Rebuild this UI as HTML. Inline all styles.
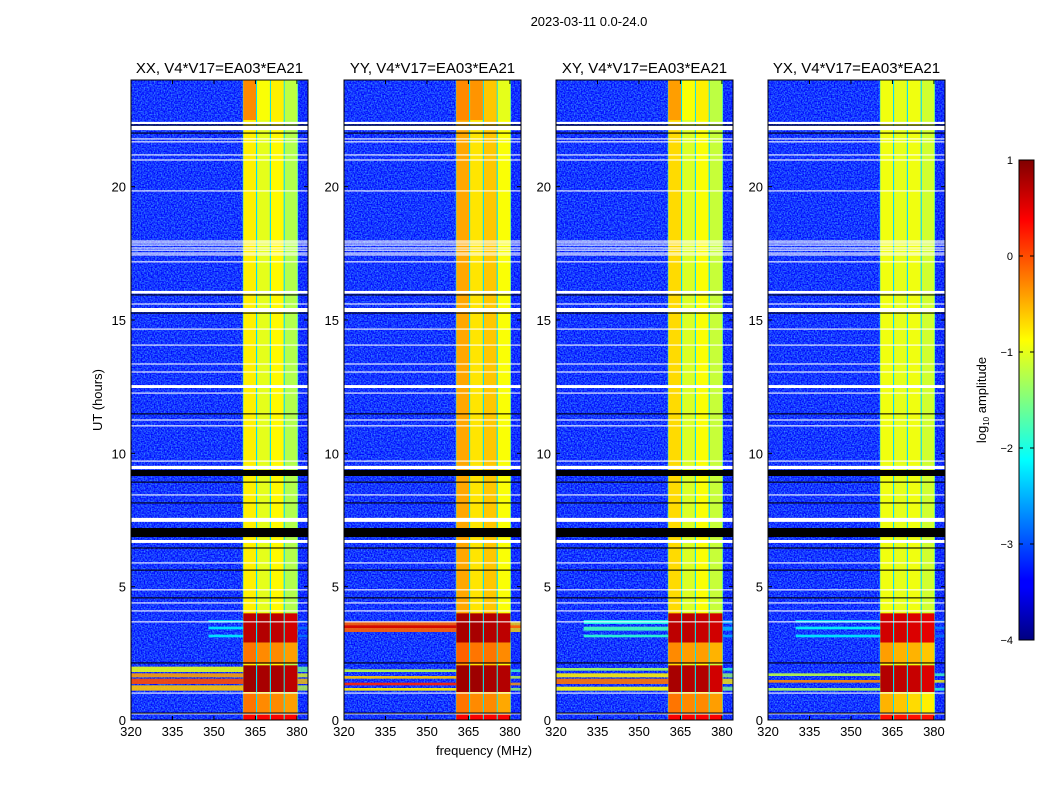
<!DOCTYPE html>
<html><head><meta charset="utf-8"><style>
body{margin:0;background:#fff;width:1050px;height:800px;overflow:hidden;font-family:"Liberation Sans",sans-serif}
svg text{font-family:"Liberation Sans",sans-serif;fill:#000}
</style></head><body>
<svg id="chart" width="1050" height="800" viewBox="0 0 1050 800" xmlns="http://www.w3.org/2000/svg">
<defs>
<filter id="noise" x="0" y="0" width="100%" height="100%">
<feTurbulence type="fractalNoise" baseFrequency="0.7" numOctaves="1" seed="3"/>
<feColorMatrix type="matrix" values="0 0 0 0 0.1  0 0 0 0 0.7  0 0 0 0 1  0 0 0 -2.2 1.5"/>
</filter>
<linearGradient id="cbgrad" x1="0" y1="1" x2="0" y2="0">
<stop offset="0" stop-color="#000080"/><stop offset="0.11" stop-color="#0000ff"/>
<stop offset="0.125" stop-color="#0000ff"/><stop offset="0.375" stop-color="#00ffff"/>
<stop offset="0.5" stop-color="#80ff80"/><stop offset="0.625" stop-color="#ffff00"/>
<stop offset="0.875" stop-color="#ff0000"/><stop offset="1" stop-color="#800000"/>
</linearGradient>
</defs>
<text x="589" y="26" font-size="13" text-anchor="middle">2023-03-11 0.0-24.0</text>
<text x="484" y="755" font-size="13" text-anchor="middle">frequency (MHz)</text>
<text x="102" y="400" font-size="13" text-anchor="middle" transform="rotate(-90 102 400)">UT (hours)</text>
<g id="panels"></g>
<g>
<rect x="1019" y="160" width="15" height="480" fill="url(#cbgrad)" stroke="#000" stroke-width="1"/>
</g>
<text x="986" y="400" font-size="13" text-anchor="middle" transform="rotate(-90 986 400)">log<tspan font-size="8" dy="3">10</tspan><tspan dy="-3"> amplitude</tspan></text>
<g id="cbticks"></g>
</svg>
<script>
const titles=["XX, V4*V17=EA03*EA21","YY, V4*V17=EA03*EA21","XY, V4*V17=EA03*EA21","YX, V4*V17=EA03*EA21"];
const xTicks=[320,335,350,365,380];
const yTicks=[0,5,10,15,20];
const cbTicks=[1,0,-1,-2,-3,-4];
const bandStarts=[360.6,365.6,370.6,375.6];
const bandWidth=4.6;
// default band levels (log10 amplitude) per panel
const bandLevels=[[-0.8,-1.0,-0.85,-1.25],[-0.45,-0.75,-0.6,-0.9],[-0.7,-1.05,-0.9,-1.15],[-0.95,-1.0,-0.95,-1.1]];
// time segments [start,end, b1,b2,b3,b4] per panel
const segXX=[[22.5,24,-0.3,-0.9,-0.8,-1.2],[2.9,4.0,0.7,0.75,0.7,0.6],[2.1,2.9,-0.2,-0.3,-0.3,-0.4],[1.05,2.05,0.85,0.8,0.8,0.7],[0.2,1.0,-0.2,-0.3,-0.3,-0.4],[0,0.2,0.4,0.4,0.4,0.4]];
const segYY=[[22.5,24,-0.3,-0.35,-0.6,-1.0],[2.9,4.0,0.8,0.8,0.75,0.7],[2.1,2.9,-0.1,-0.2,-0.2,-0.3],[1.05,2.05,0.85,0.85,0.8,0.75],[0.2,1.0,-0.2,-0.3,-0.3,-0.45],[0,0.2,0.4,0.4,0.4,0.4]];
const segXY=[[22.5,24,-0.4,-0.9,-0.8,-1.2],[2.9,4.0,0.7,0.7,0.65,0.6],[2.1,2.9,-0.3,-0.4,-0.4,-0.5],[1.05,2.05,0.8,0.75,0.75,0.6],[0.2,1.0,-0.2,-0.3,-0.3,-0.4],[0,0.2,0.4,0.4,0.4,0.4]];
const segYX=[[2.9,4.0,0.6,0.6,0.55,0.5],[2.1,2.9,-0.4,-0.5,-0.5,-0.6],[1.05,2.05,0.75,0.7,0.65,0.55],[0.2,1.0,-0.5,-0.6,-0.7,-0.8],[0,0.2,0.3,0.3,0.3,0.3]];
const segments=[segXX,segYY,segXY,segYX];
// low-frequency RFI rows [start,end,value,fromFreq]
const rfiXX=[[1.1,1.3,-0.6,320],[1.35,1.55,0.0,320],[1.6,1.75,-0.4,320],[1.8,2.0,-1.0,320],[3.1,3.2,-2.2,348],[3.4,3.5,-2.2,348],[3.65,3.75,-2.3,348]];
const rfiYY=[[3.3,3.7,-0.1,320],[3.45,3.55,0.6,320],[1.1,1.2,-0.8,320],[1.3,1.4,0.2,320],[1.55,1.65,-0.6,320],[1.8,1.9,-1.2,320]];
const rfiXY=[[1.1,1.25,-0.9,320],[1.35,1.55,-0.2,320],[1.6,1.75,-0.8,320],[1.85,1.95,-1.3,320],[3.1,3.2,-1.9,330],[3.35,3.5,-1.8,330],[3.6,3.75,-2.0,330]];
const rfiYX=[[1.1,1.2,-1.3,320],[1.4,1.5,-0.3,320],[1.65,1.75,-1.2,320],[3.1,3.2,-2.2,330],[3.4,3.5,-2.1,330],[3.65,3.75,-2.3,330]];
const rfi=[rfiXX,rfiYY,rfiXY,rfiYX];
const whiteFlags=[[22.35,22.43],[22.12,22.28],[21.77,21.81],[21.66,21.7],[21.17,21.21],[20.98,21.02],[19.82,19.86],[17.94,17.98],[17.87,17.91],[17.79,17.83],[17.68,17.72],[17.6,17.64],[17.49,17.53],[17.42,17.46],[17.16,17.2],[15.99,16.09],[15.58,15.62],[15.3,15.45],[14.64,14.68],[14.04,14.08],[13.33,13.37],[13.03,13.07],[12.45,12.56],[12.24,12.28],[11.23,11.27],[11.01,11.05],[9.69,9.73],[9.41,9.53],[8.42,8.46],[7.43,7.58],[6.64,6.75],[5.87,5.91],[4.86,4.9],[4.37,4.41],[4.07,4.11],[3.66,3.7],[0.99,1.03],[0.21,0.25]];
const blackFlags=[[22.29,22.33],[21.99,22.03],[15.92,15.96],[15.24,15.28],[11.46,11.5],[9.15,9.375],[8.9,8.94],[8.12,8.16],[6.86,7.2],[6.43,6.47],[5.6,5.64],[4.56,4.6],[2.12,2.16],[0.24,0.28]];
const bgLevel=-3.35, gapLevel=-2.3;

const panelX=[131,344,556,768], PW=177, PT=80, PH=640;
const fMin=320,fMax=384,tMax=24;
function jet(v){let t=Math.max(0,Math.min(1,(v+4)/5));
 const c=x=>Math.round(255*Math.max(0,Math.min(1,x)));
 return `rgb(${c(1.5-Math.abs(4*t-3))},${c(1.5-Math.abs(4*t-2))},${c(1.5-Math.abs(4*t-1))})`;}
const NS="http://www.w3.org/2000/svg";
function el(tag,attrs,parent){const e=document.createElementNS(NS,tag);for(const k in attrs)e.setAttribute(k,attrs[k]);parent.appendChild(e);return e;}
const root=document.getElementById('panels');
titles.forEach((title,p)=>{
 const x0=panelX[p];
 const xs=f=>x0+(f-fMin)/(fMax-fMin)*PW;
 const ys=h=>PT+PH-h/tMax*PH;
 const g=el('g',{},root);
 
 
 const bg=el('rect',{x:x0,y:PT,width:PW,height:PH,fill:jet(bgLevel)},g);
 
 
 const bandL=xs(bandStarts[0]-0.2), bandR=xs(bandStarts[3]+bandWidth+0.2);
 const nz=el('rect',{x:x0,y:PT,width:bandL-x0,height:PH,filter:'url(#noise)',opacity:0.6},g);
 
 
 const nz2=el('rect',{x:bandR,y:PT,width:x0+PW-bandR,height:PH,filter:'url(#noise)',opacity:0.5},g);
 
 
 const gap=el('rect',{x:bandL,y:PT,width:bandR-bandL,height:PH,fill:jet(gapLevel)},g);
 
 
 bandStarts.forEach((bs,b)=>{
  const r=el('rect',{x:xs(bs),y:PT,width:xs(bs+bandWidth)-xs(bs),height:PH,fill:jet(bandLevels[p][b])},g);
  
  
 });
 segments[p].forEach(s=>{
  bandStarts.forEach((bs,b)=>{
   const r=el('rect',{x:xs(bs),y:ys(s[1]),width:xs(bs+bandWidth)-xs(bs),height:ys(s[0])-ys(s[1]),fill:jet(s[2+b])},g);
   
   
  });
 });
 rfi[p].forEach(s=>{
  const r=el('rect',{x:xs(s[3]),y:ys(s[1]),width:xs(bandStarts[0])-xs(s[3]),height:ys(s[0])-ys(s[1]),fill:jet(s[2]),opacity:0.9},g);
  
  
  const r2=el('rect',{x:xs(bandStarts[3]+bandWidth),y:ys(s[1]),width:x0+PW-xs(bandStarts[3]+bandWidth),height:ys(s[0])-ys(s[1]),fill:jet(s[2]-0.6),opacity:0.8},g);
  
  
 });
 whiteFlags.forEach(f=>{const r=el('rect',{x:x0,y:ys(f[1]),width:PW,height:Math.max(1,ys(f[0])-ys(f[1])),fill:'#fff'},g);
  
  });
 blackFlags.forEach(f=>{const r=el('rect',{x:x0,y:ys(f[1]),width:PW,height:Math.max(1,ys(f[0])-ys(f[1])),fill:'#000'},g);
  
  });
 const fr=el('rect',{x:x0,y:PT,width:PW,height:PH,fill:'none',stroke:'#000','stroke-width':1},g);
 
 
 const t=el('text',{x:x0+PW/2,y:PT-7,'font-size':15,'text-anchor':'middle'},g);t.textContent=title;
 
 
 xTicks.forEach(v=>{const X=xs(v);
  el('line',{x1:X,x2:X,y1:PT+PH,y2:PT+PH-4,stroke:'#000'},g);el('line',{x1:X,x2:X,y1:PT,y2:PT+4,stroke:'#000'},g);
  const l=el('text',{x:X,y:PT+PH+16,'font-size':13,'text-anchor':'middle'},g);l.textContent=v;
  
  });
 yTicks.forEach(v=>{const Y=ys(v);
  el('line',{x1:x0,x2:x0+4,y1:Y,y2:Y,stroke:'#000'},g);el('line',{x1:x0+PW,x2:x0+PW-4,y1:Y,y2:Y,stroke:'#000'},g);
  const l=el('text',{x:x0-5,y:Y+5,'font-size':13,'text-anchor':'end'},g);l.textContent=v;
  
  });
});
const cbg=document.getElementById('cbticks');
cbTicks.forEach(v=>{const Y=160+(1-v)/5*480;
 el('line',{x1:1019,x2:1023,y1:Y,y2:Y,stroke:'#000'},cbg);el('line',{x1:1034,x2:1030,y1:Y,y2:Y,stroke:'#000'},cbg);
 const l=el('text',{x:1013,y:Y+4,'font-size':11,'text-anchor':'end'},cbg);l.textContent=v<0?'\u2212'+(-v):v;
 
 });
</script>
</body></html>
